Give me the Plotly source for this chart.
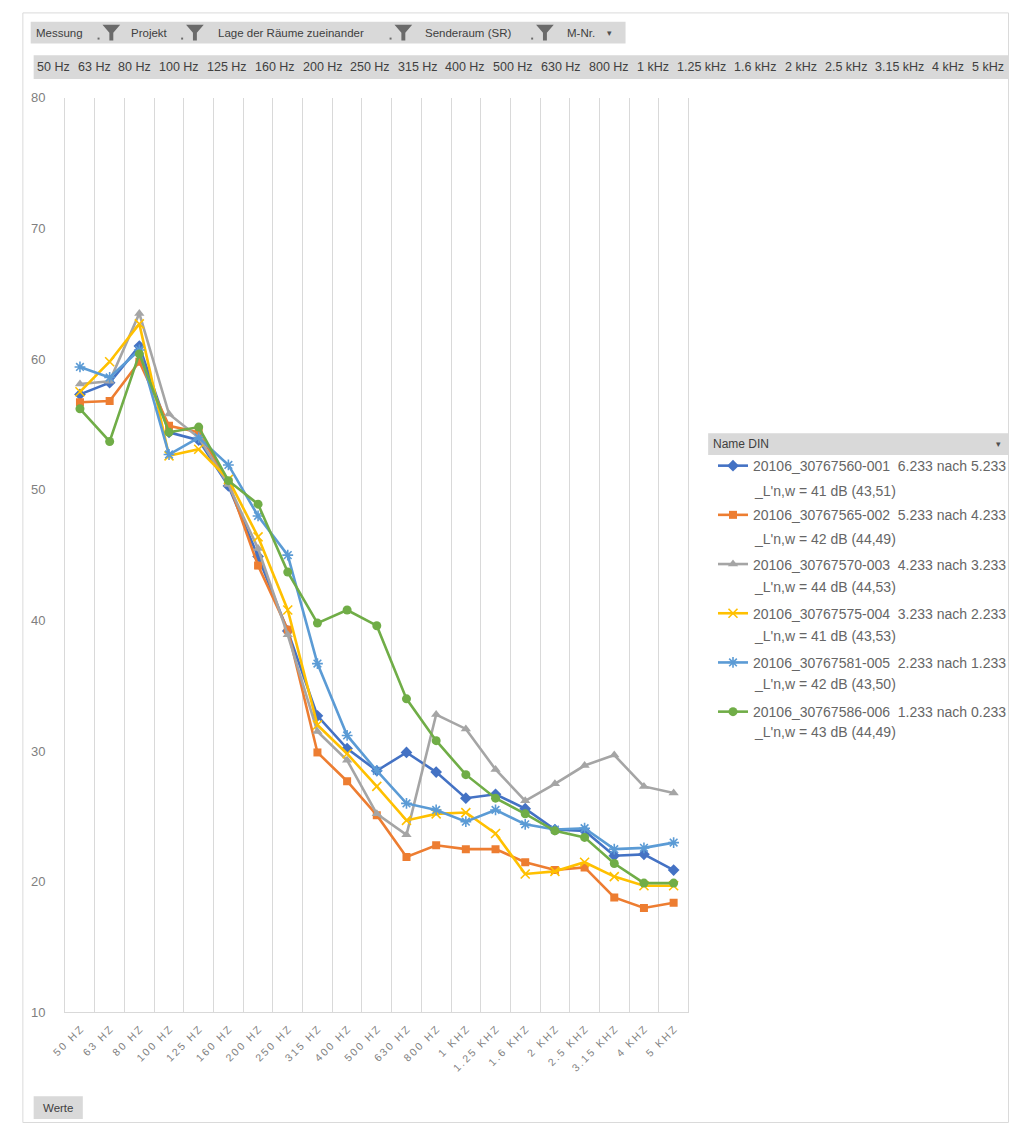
import plotly.graph_objects as go

# Frequency bands (third-octave) on the category axis
freqs = ["50 Hz", "63 Hz", "80 Hz", "100 Hz", "125 Hz", "160 Hz", "200 Hz", "250 Hz",
         "315 Hz", "400 Hz", "500 Hz", "630 Hz", "800 Hz", "1 kHz", "1.25 kHz", "1.6 kHz",
         "2 kHz", "2.5 kHz", "3.15 kHz", "4 kHz", "5 kHz"]

# Measured impact sound levels L'n per band (dB)
m001 = [57.3, 58.2, 61.0, 54.4, 53.8, 50.3, 44.9, 39.2, 32.7, 30.2, 28.5, 29.9, 28.4,
        26.4, 26.7, 25.6, 24.0, 23.9, 22.0, 22.1, 20.9]
m002 = [56.7, 56.8, 59.8, 54.9, 54.4, 50.6, 44.2, 39.3, 29.9, 27.7, 25.1, 21.9, 22.8,
        22.5, 22.5, 21.5, 20.9, 21.1, 18.8, 18.0, 18.4]
m003 = [58.1, 58.3, 63.5, 55.8, 54.0, 50.4, 45.5, 38.9, 31.5, 29.3, 25.2, 23.6, 32.8,
        31.7, 28.6, 26.2, 27.5, 28.9, 29.7, 27.3, 26.8]
m004 = [57.5, 59.8, 62.7, 52.6, 53.1, 50.8, 46.4, 40.8, 32.0, 29.8, 27.3, 24.7, 25.2,
        25.3, 23.7, 20.6, 20.8, 21.5, 20.4, 19.7, 19.7]
m005 = [59.4, 58.6, 60.7, 52.7, 54.0, 51.9, 48.0, 45.0, 36.7, 31.2, 28.5, 26.0, 25.5,
        24.6, 25.5, 24.4, 24.0, 24.1, 22.5, 22.6, 23.0]
m006 = [56.2, 53.7, 60.4, 54.4, 54.8, 50.7, 48.9, 43.7, 39.8, 40.8, 39.6, 34.0, 30.8,
        28.2, 26.4, 25.2, 23.9, 23.4, 21.4, 19.9, 19.9]

series_names = ["20106_30767560-001  6.233 nach 5.233",
                "20106_30767565-002  5.233 nach 4.233",
                "20106_30767570-003  4.233 nach 3.233",
                "20106_30767575-004  3.233 nach 2.233",
                "20106_30767581-005  2.233 nach 1.233",
                "20106_30767586-006  1.233 nach 0.233"]
series_notes = ["_L'n,w = 41 dB (43,51)",
                "_L'n,w = 42 dB (44,49)",
                "_L'n,w = 44 dB (44,53)",
                "_L'n,w = 41 dB (43,53)",
                "_L'n,w = 42 dB (43,50)",
                "_L'n,w = 43 dB (44,49)"]

filter_fields = ["Messung", "Projekt", "Lage der Räume zueinander", "Senderaum (SR)", "M-Nr."]

series_values = [m001, m002, m003, m004, m005, m006]
colors = ["#4472C4", "#ED7D31", "#A5A5A5", "#FFC000", "#5B9BD5", "#70AD47"]
symbols = ["diamond", "square", "triangle-up", "x-thin-open", "asterisk-open", "circle"]
msizes = [9, 8, 9, 9, 9, 9]

W, H = 1012, 1131
FONT = "Liberation Sans"
TXT = "#666666"
BTN = "#D9D9D9"


def px(x):
    return x / W


def py(y):
    return 1 - y / H


def spaced(s):
    # expanded letter spacing for the axis labels
    return "\u2009".join(s.upper())


fig = go.Figure()

for name, vals, col, sym, ms in zip(series_names, series_values, colors, symbols, msizes):
    open_sym = sym.endswith("open")
    fig.add_trace(go.Scatter(
        x=freqs, y=vals, name=name, legendgroup=name,
        mode="lines+markers",
        line=dict(color=col, width=2.6),
        marker=dict(symbol=sym, size=ms, color=col,
                    line=dict(color=col, width=1.6 if open_sym else 0)),
    ))

shapes = []
annotations = []

# outer chart border
shapes.append(dict(type="rect", xref="paper", yref="paper",
                   x0=px(9), x1=px(1011.5), y0=py(1130.5), y1=py(6),
                   line=dict(color="#DADADA", width=1), fillcolor="rgba(0,0,0,0)", layer="below"))

# report filter buttons row
shapes.append(dict(type="rect", xref="paper", yref="paper",
                   x0=px(17), x1=px(622), y0=py(37), y1=py(15),
                   line=dict(width=0), fillcolor=BTN, layer="below"))
filter_x = [20, 117, 205, 416, 560]
for lbl, fx in zip(filter_fields, filter_x):
    annotations.append(dict(text=lbl, x=px(fx), y=py(26), xref="paper", yref="paper",
                            xanchor="left", yanchor="middle", showarrow=False,
                            font=dict(family=FONT, size=11.5, color="#404040")))
# funnel icons with their small dropdown dots
for fx in [99, 184, 396, 540]:
    path = (f"M {px(fx-9)} {py(18)} L {px(fx+9)} {py(18)} L {px(fx+2)} {py(26)} "
            f"L {px(fx+2)} {py(34)} L {px(fx-2)} {py(34)} L {px(fx-2)} {py(26)} Z")
    shapes.append(dict(type="path", xref="paper", yref="paper", path=path,
                       fillcolor="#6A6A6A", line=dict(width=0)))
    shapes.append(dict(type="rect", xref="paper", yref="paper",
                       x0=px(fx-14), x1=px(fx-12), y0=py(33), y1=py(31),
                       fillcolor="#6A6A6A", line=dict(width=0)))
annotations.append(dict(text="▾", x=px(606), y=py(26), xref="paper", yref="paper",
                        xanchor="center", yanchor="middle", showarrow=False,
                        font=dict(family="DejaVu Sans", size=9, color="#505050")))

# column field row with band labels
shapes.append(dict(type="rect", xref="paper", yref="paper",
                   x0=px(20), x1=1, y0=py(73), y1=py(49),
                   line=dict(width=0), fillcolor=BTN, layer="below"))
band_cx = [40, 82, 123, 168, 217, 265, 314, 362, 411, 459, 508, 556, 605, 650, 699,
           754, 800, 846, 901, 950, 991]
for lbl, cx in zip(freqs, band_cx):
    annotations.append(dict(text=lbl, x=px(cx), y=py(61), xref="paper", yref="paper",
                            xanchor="center", yanchor="middle", showarrow=False,
                            font=dict(family=FONT, size=12.5, color="#404040")))

# legend header button
shapes.append(dict(type="rect", xref="paper", yref="paper",
                   x0=px(706), x1=1, y0=py(454), y1=py(432),
                   line=dict(width=0), fillcolor=BTN, layer="below"))
annotations.append(dict(text="Name DIN", x=px(709), y=py(443), xref="paper", yref="paper",
                        xanchor="left", yanchor="middle", showarrow=False,
                        font=dict(family=FONT, size=12, color="#404040")))
annotations.append(dict(text="▾", x=px(1001), y=py(443), xref="paper", yref="paper",
                        xanchor="center", yanchor="middle", showarrow=False,
                        font=dict(family="DejaVu Sans", size=9, color="#505050")))

# second legend line per series
for i, note in enumerate(series_notes):
    annotations.append(dict(text=note, x=px(751), y=py(490 + 49 * i), xref="paper", yref="paper",
                            xanchor="left", yanchor="middle", showarrow=False,
                            font=dict(family=FONT, size=14, color=TXT)))

# values field button
shapes.append(dict(type="rect", xref="paper", yref="paper",
                   x0=px(20), x1=px(70), y0=py(1127), y1=py(1104),
                   line=dict(width=0), fillcolor=BTN, layer="below"))
annotations.append(dict(text="Werte", x=px(45), y=py(1115.5), xref="paper", yref="paper",
                        xanchor="center", yanchor="middle", showarrow=False,
                        font=dict(family=FONT, size=11.5, color="#404040")))

fig.update_layout(
    width=W, height=H,
    margin=dict(l=0, r=0, t=0, b=0, pad=0),
    paper_bgcolor="white", plot_bgcolor="white",
    font=dict(family=FONT, color=TXT),
    shapes=shapes, annotations=annotations,
    showlegend=True,
    legend=dict(x=px(711), y=py(449), xanchor="left", yanchor="top",
                font=dict(family=FONT, size=14, color=TXT),
                bgcolor="rgba(0,0,0,0)", tracegroupgap=28, itemwidth=30,
                traceorder="grouped"),
    xaxis=dict(domain=[px(52), px(686)], type="category", tickson="boundaries",
               showgrid=True, gridcolor="#D9D9D9", gridwidth=1,
               showline=True, linecolor="#D9D9D9", linewidth=1,
               ticks="", tickangle=-45, ticklabelstandoff=6,
               tickmode="array", tickvals=freqs, ticktext=[spaced(f) for f in freqs],
               tickfont=dict(family=FONT, size=10.5, color="#7F7F7F"),
               range=[-0.5, len(freqs) - 0.5], fixedrange=True),
    yaxis=dict(domain=[py(1019), py(92)], range=[10, 80], dtick=10,
               showgrid=False, zeroline=False,
               showline=True, mirror=True, linecolor="#D9D9D9", linewidth=1, ticks="",
               tickfont=dict(family=FONT, size=13, color="#7F7F7F"),
               ticklabelstandoff=16, fixedrange=True),
)

fig.write_html("out.html")
